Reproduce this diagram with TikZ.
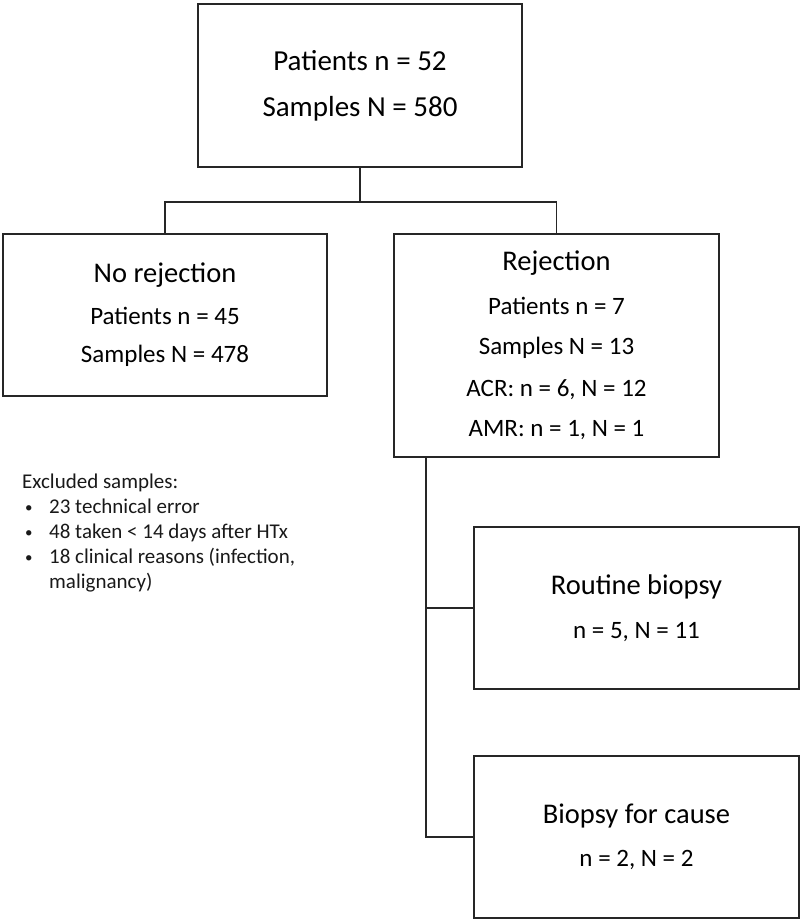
\documentclass[tikz,border=0pt]{standalone}
\usepackage{fontspec}
\setmainfont{Carlito}
\begin{document}
\begin{tikzpicture}[x=1pt,y=-1pt,
  box/.style={draw=black!85, line width=1.6pt, inner sep=0pt, align=center,
    font=\fontsize{25}{30}\selectfont, text=black},
  link/.style={draw=black!85, line width=1.6pt},
  note/.style={inner sep=0pt, align=left, font=\fontsize{21}{25}\selectfont, text=black!90},
]
\useasboundingbox (0,0) rectangle (802,922);
\newcommand{\ttl}{\fontsize{28.5}{30}\selectfont}
\newcommand{\bdy}{\fontsize{25}{30}\selectfont}
\newcommand{\blt}{\hspace*{3pt}\makebox[24pt][l]{\raisebox{1pt}{\fontsize{15}{15}\selectfont\textbullet}}}
\node[box, minimum width=324pt, minimum height=163pt] (top) at (360,85.5)
  {\fontsize{29}{30}\selectfont Patients n = 52\\[16pt]\fontsize{29}{30}\selectfont Samples N = 580};
\node[box, minimum width=324pt, minimum height=162pt] (norej) at (165,315)
  {\ttl No rejection\\[12pt]\bdy Patients n = 45\\[8pt]\bdy Samples N = 478};
\node[box, minimum width=325pt, minimum height=223pt] (rej) at (556.5,345.5)
  {\ttl Rejection\\[14pt]\bdy Patients n = 7\\[10pt]\bdy Samples N = 13\\[12pt]\bdy ACR: n = 6, N = 12\\[10pt]\bdy AMR: n = 1, N = 1};
\node[box, minimum width=325pt, minimum height=162pt] (routine) at (636.5,608)
  {\ttl Routine biopsy\\[14pt]\bdy n = 5, N = 11};
\node[box, minimum width=325pt, minimum height=162pt] (cause) at (636.5,837)
  {\ttl Biopsy for cause\\[13pt]\bdy n = 2, N = 2};
\node[note, anchor=north west] (excl) at (22,473.5)
  {Excluded samples:\\
   \blt 23 technical error\\
   \blt 48 taken < 14 days after HTx\\
   \blt 18 clinical reasons (infection,\\
   \hspace*{27pt}malignancy)};
\coordinate (j) at ([yshift=-34pt]top.south);
\draw[link] (top.south) -- (j);
\draw[link] (norej.north) |- (j) -| (rej.north);
\coordinate (rb) at ([xshift=33pt]rej.south west);
\draw[link] (rb) |- (cause.west);
\draw[link] (rb |- routine.west) -- (routine.west);
\end{tikzpicture}
\end{document}
